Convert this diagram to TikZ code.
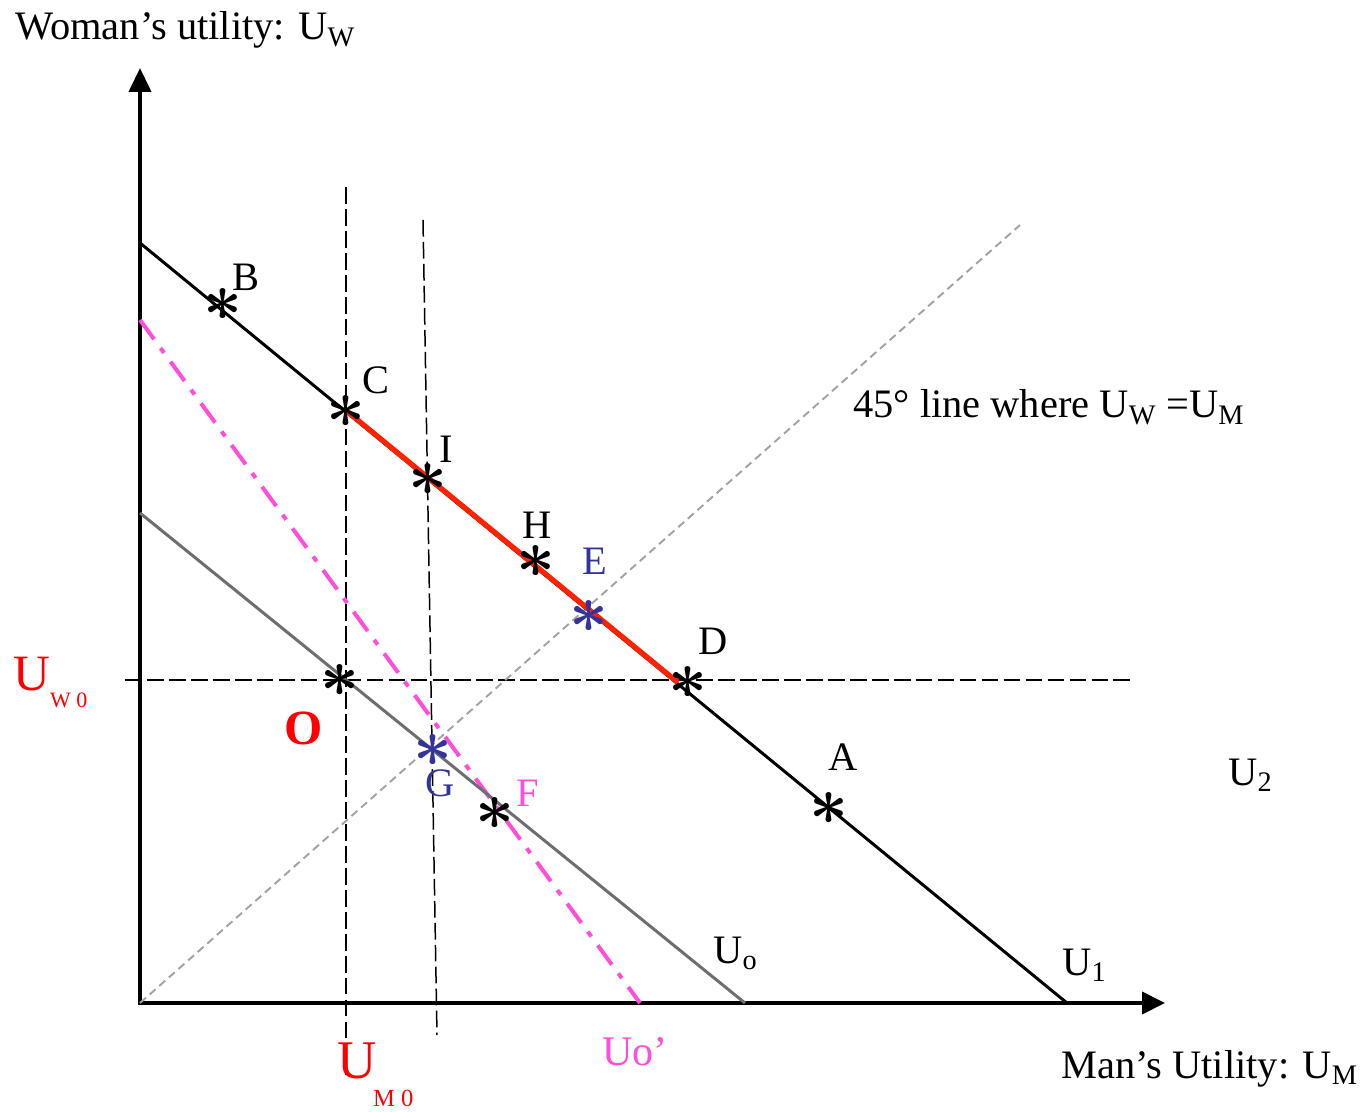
\documentclass[tikz,border=0pt]{standalone}
\usepackage{fontspec}
\setmainfont{Liberation Serif}
\usetikzlibrary{arrows.meta}
\definecolor{ink}{HTML}{000000}
\definecolor{muted}{HTML}{6E6E6E}
\definecolor{line}{HTML}{A3A3A3}
\definecolor{accent}{HTML}{FF0000}
\definecolor{seg}{HTML}{FF2200}
\definecolor{pinkish}{HTML}{FF4FD8}
\definecolor{navy}{HTML}{333399}
\tikzset{
  axis/.style={{Triangle[length=0.48cm,width=0.44cm]}-{Triangle[length=0.46cm,width=0.44cm]},line width=2.3pt,draw=ink},
  frontier/.style={line width=1.7pt,draw=#1},
  guide/.style={line width=0.85pt,draw=ink,dash pattern=on 9.5pt off 3pt},
  diag/.style={line width=1.1pt,draw=line,dash pattern=on 4.5pt off 2.8pt},
  shifted/.style={line width=2.3pt,draw=pinkish,dash pattern=on 13.6pt off 6.2pt on 3.4pt off 6.2pt},
  pick/.style={line width=3pt,draw=seg},
  pnt/.style={inner sep=0pt,text=#1,font=\Huge\boldmath,scale=1.55,transform shape},
  pnt/.default=ink,
  lbl/.style={inner sep=0pt,text=#1},
  lbl/.default=ink
}

\begin{document}
\begin{tikzpicture}[font=\fontsize{23}{26}\selectfont]
  \useasboundingbox (-2.8,-2.16) rectangle (24.42,20.06);
  % axes
  \coordinate (org) at (0,0);
  \coordinate (ytop) at (0,18.7);
  \coordinate (xend) at (20.5,0);
  \draw[axis] (ytop) -- (org) -- (xend);
  % reference lines
  \coordinate (v1a) at (4.12,16.32);
  \coordinate (v1b) at (4.12,-1.44);
  \coordinate (v2a) at (5.66,15.66);
  \coordinate (v2b) at (5.94,-0.64);
  \coordinate (ha) at (-0.3,6.46);
  \coordinate (hb) at (19.9,6.46);
  \coordinate (dtop) at (17.6,15.56);
  \draw[guide] (v1a) -- (v1b);
  \draw[guide] (v2a) -- (v2b);
  \draw[guide] (ha) -- (hb);
  \draw[diag] (org) -- (dtop);
  % utility frontiers
  \coordinate (u1a) at (0,15.2);
  \coordinate (u1b) at (18.54,0);
  \coordinate (u0a) at (0,9.8);
  \coordinate (u0b) at (12.1,0);
  \coordinate (upa) at (0,13.66);
  \coordinate (upb) at (10.0,0);
  \draw[shifted] (upa) -- (upb);
  \draw[frontier=muted] (u0a) -- (u0b);
  \draw[frontier=ink] (u1a) -- (u1b);
  \coordinate (sa) at (4.12,11.85);
  \coordinate (sb) at (10.76,6.41);
  \draw[pick] (sa) -- (sb);
  % points
  \node[pnt] (B) at (1.66,13.96) {$\ast$};
  \node[pnt] (C) at (4.12,11.82) {$\ast$};
  \node[pnt] (I) at (5.76,10.46) {$\ast$};
  \node[pnt] (H) at (7.92,8.84) {$\ast$};
  \node[pnt=navy] (E) at (8.98,7.74) {$\ast$};
  \node[pnt] (D) at (10.96,6.42) {$\ast$};
  \node[pnt] (A) at (13.78,3.9) {$\ast$};
  \node[pnt] (O) at (4.0,6.46) {$\ast$};
  \node[pnt=navy] (G) at (5.86,5.06) {$\ast$};
  \node[pnt] (F) at (7.1,3.8) {$\ast$};
  % point labels
  \node[lbl] (labB) at (2.11,14.51) {B};
  \node[lbl] (labC) at (4.71,12.45) {C};
  \node[lbl] (labI) at (6.13,11.07) {I};
  \node[lbl] (labH) at (7.95,9.55) {H};
  \node[lbl=navy] (labE) at (9.1,8.84) {E};
  \node[lbl] (labD) at (11.47,7.23) {D};
  \node[lbl] (labA) at (14.06,4.92) {A};
  \node[lbl=navy] (labG) at (6.01,4.39) {G};
  \node[lbl=pinkish] (labF) at (7.75,4.19) {F};
  \node[lbl=accent,font=\fontsize{28}{30}\selectfont\bfseries] (labO) at (3.27,5.49) {O};
  % curve and axis labels
  \node[lbl,anchor=base west] (labU0) at (11.46,0.8) {U\textsubscript{o}};
  \node[lbl,anchor=base west] (labU1) at (18.44,0.56) {U\textsubscript{1}};
  \node[lbl,anchor=base west] (labU2) at (21.76,4.36) {U\textsubscript{2}};
  \node[lbl=pinkish,font=\fontsize{24}{26}\selectfont] (labUp) at (9.9,-0.98) {Uo’};
  \node[lbl=accent,anchor=base west] (uw0) at (-2.54,6.26)
    {\fontsize{29}{30}\selectfont U\raisebox{-10pt}{\fontsize{12.5}{13}\selectfont W 0}};
  \node[lbl=accent,anchor=base west] (um0) at (3.94,-1.5)
    {\fontsize{31}{32}\selectfont U\hspace{-2pt}\raisebox{-16.5pt}{\fontsize{14}{15}\selectfont M 0}};
  \node[lbl,anchor=base west] (ylab) at (-2.5,19.26) {Woman’s utility: U\textsubscript{W}};
  \node[lbl,anchor=base west] (xlab) at (18.42,-1.5) {Man’s Utility: U\textsubscript{M}};
  \node[lbl,anchor=base west] (dlab) at (14.26,11.7) {45° line where U\textsubscript{W} =U\textsubscript{M}};
\end{tikzpicture}
\end{document}
